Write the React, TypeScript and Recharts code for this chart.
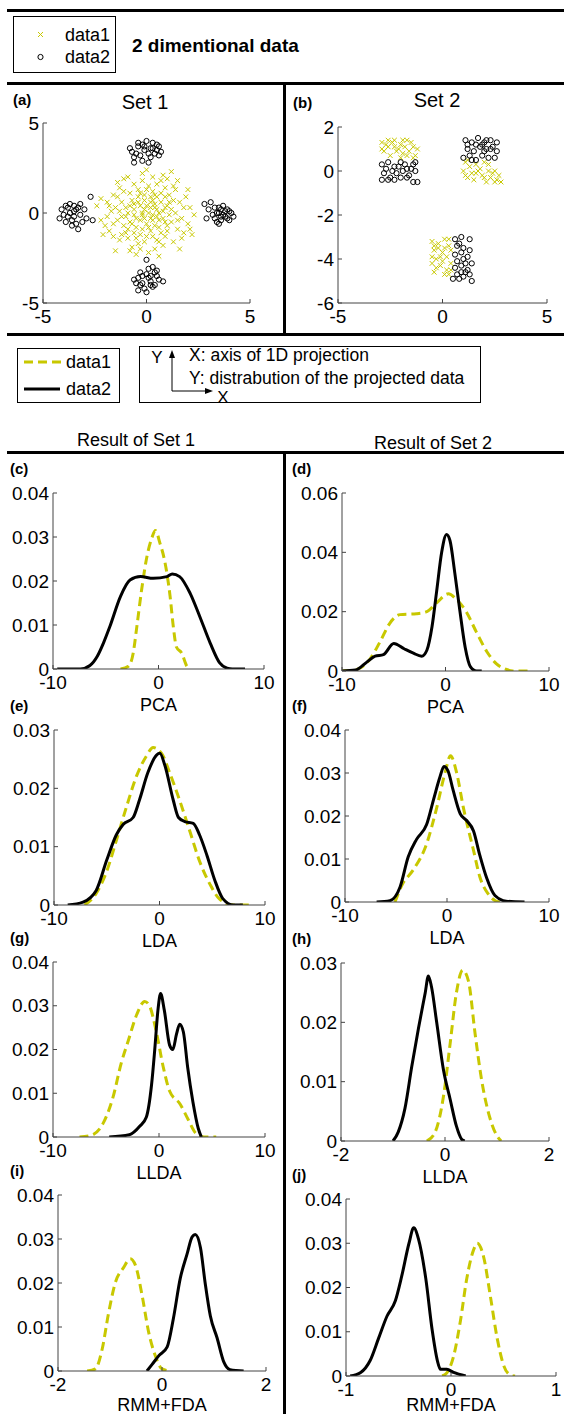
import React from "react";
import { LineChart, Line, ScatterChart, Scatter, XAxis, YAxis } from "recharts";

const YELLOW = "#c8c800";
const FONT = "'Liberation Sans', Arial, Helvetica, sans-serif";

// ---- (a) Set 1 scatter ----
const set1Data1 = [
  [-0.1, 0.2], [0.3, -0.4], [-0.6, 0.5], [0.8, 0.1], [-1.1, -0.7], [0.5, 0.9], [-0.3, -1.2], [1.2, -0.5],
  [-1.5, 0.3], [0.1, 1.5], [0.9, -1.3], [-0.8, 1.1], [1.6, 0.6], [-1.9, -0.2], [0.4, -2.0], [-0.2, 2.2],
  [2.0, -0.6], [-1.3, -1.5], [1.4, 1.3], [-0.5, -0.3], [0.2, 0.6], [-0.9, 0.0], [0.6, -0.8], [1.0, 0.4],
  [-0.4, 0.9], [0.0, -0.6], [-1.6, 1.0], [1.8, -1.1], [-0.7, -1.9], [0.7, 1.8], [-2.2, 0.8], [2.1, 0.3],
  [-1.0, -1.1], [1.1, -0.1], [-0.1, -1.6], [0.3, 1.2], [-1.4, -0.4], [1.5, -0.9], [-0.6, 1.6], [0.9, 0.9],
  [-0.2, -0.9], [0.5, 0.2], [-1.2, 0.6], [1.3, -1.6], [-1.8, -1.0], [0.2, -1.0], [-0.3, 0.4], [0.8, -0.3],
  [-0.8, -0.5], [0.4, 0.5], [1.9, 0.9], [-2.0, -0.7], [0.0, 2.4], [1.2, 2.3], [-1.1, 1.9], [-0.5, -2.3],
  [0.6, -2.4], [1.6, -2.0], [-1.5, -2.1], [2.2, -1.2], [-0.9, 2.0], [0.1, 0.0], [-0.6, -0.1], [0.7, 0.6],
  [-0.3, -0.4], [0.3, -0.1], [1.0, -0.7], [-1.0, 0.3], [0.2, 0.9], [-0.4, 1.3], [1.4, 0.0], [-1.7, 0.1],
  [0.9, 1.4], [-0.2, 1.8], [0.5, -1.5], [-0.9, -1.4], [1.7, -0.3], [-1.3, 1.4], [0.0, -1.3], [1.1, 1.0],
  [-0.7, 0.7], [0.6, 0.0], [-0.1, 0.7], [0.4, -0.7], [-1.2, -0.2], [1.3, 0.7], [-0.5, -0.8], [0.8, -1.8],
  [-2.4, 0.4], [2.3, -0.1], [-1.9, 0.6], [1.8, 0.3], [-0.8, -2.1], [0.3, 2.0], [0.7, -1.1], [-0.4, -1.7],
  [1.5, 1.8], [-1.6, -1.3], [0.1, -2.2], [-0.1, 1.0], [2.0, 1.3], [-2.1, -1.2], [0.9, -0.5], [-0.6, 0.2],
  [0.2, -0.3], [1.0, 1.9], [-1.4, 0.9], [0.5, 1.6],
  [-0.2, -0.1], [0.4, 0.3], [-0.7, -0.6], [0.6, -0.4], [-0.4, 0.6], [0.9, 0.3], [-1.0, -0.2], [0.1, -0.8],
  [-0.3, 1.1], [1.2, 0.2], [-1.3, 0.1], [0.3, -1.3], [-0.8, 0.4], [0.7, 1.1], [-0.5, -1.4], [1.5, -0.4],
  [-1.6, -0.6], [0.0, 1.3], [1.0, -1.0], [-1.1, 1.2], [0.5, -0.2], [-0.1, -0.3], [0.2, 0.3], [-0.9, -0.9],
  [1.3, 1.5], [-1.8, 0.4], [1.7, -1.4], [-0.3, -2.0], [0.8, 2.1], [-1.4, 1.7], [2.1, -0.9], [-2.2, -0.4],
  [0.4, 1.0], [-0.6, -1.1], [1.1, 0.6], [-1.2, -1.2], [0.0, 0.4], [0.6, -1.6], [-0.2, 0.0], [0.3, 0.7],
];
const set1Data2 = [
  [-0.5, 3.3], [0.2, 3.6], [-0.2, 3.8], [0.5, 3.5], [-0.7, 3.4], [0.1, 3.3], [0.3, 3.9], [-0.4, 3.7],
  [0.6, 3.7], [-0.1, 3.5], [0.4, 3.3], [-0.6, 3.1], [0.0, 4.0], [-0.3, 3.2], [0.7, 3.4], [-0.8, 3.6],
  [0.2, 3.1], [-0.2, 2.9], [-0.6, 2.8], [0.1, 2.8], [0.5, 3.8], [-0.4, 3.9], [0.3, 3.6], [-0.1, 3.7], [0.6, 3.2],
  [-0.4, -3.6], [0.2, -3.8], [0.0, -3.4], [0.5, -3.5], [-0.3, -4.0], [0.3, -4.1], [-0.5, -3.9], [0.1, -3.6],
  [0.6, -3.7], [-0.1, -4.2], [0.4, -3.3], [-0.2, -3.5], [0.0, -2.6], [0.3, -3.0], [-0.4, -4.3], [0.0, -4.4],
  [0.8, -3.8], [-0.6, -3.7], [0.2, -4.0], [0.5, -3.2], [-0.2, -3.9], [0.1, -3.1], [0.4, -4.0], [-0.3, -3.3], [0.2, -3.5],
  [-3.5, 0.1], [-3.8, -0.2], [-3.3, 0.3], [-4.1, 0.2], [-3.6, -0.4], [-3.2, -0.1], [-3.9, 0.4], [-3.4, -0.6],
  [-3.7, 0.0], [-4.2, -0.3], [-3.0, 0.2], [-3.5, 0.4], [-3.1, -0.5], [-2.7, 0.9], [-3.3, -0.9], [-2.6, -0.4],
  [-2.9, -0.3], [-3.8, 0.3], [-4.0, -0.1], [-3.6, -0.7], [-3.2, 0.5], [-3.4, 0.2], [-3.9, -0.5], [-3.5, -0.2], [-3.7, 0.5],
  [3.5, 0.0], [3.8, -0.2], [3.3, 0.3], [3.6, -0.4], [4.0, 0.1], [3.2, -0.1], [3.7, 0.4], [3.4, -0.5],
  [3.9, -0.3], [4.1, 0.0], [3.0, 0.2], [3.6, 0.2], [2.9, -0.3], [2.8, 0.5], [3.5, -0.6], [3.8, 0.1],
  [4.2, -0.2], [3.3, -0.3], [3.7, -0.1], [3.1, 0.6], [3.5, 0.3], [3.9, 0.2], [3.4, 0.0], [3.6, -0.2], [4.0, -0.4],
];

// ---- (b) Set 2 scatter ----
const set2Data1 = [
  [-2.9, 1.3], [-2.6, 1.1], [-2.3, 1.4], [-2.0, 1.2], [-1.7, 1.4], [-1.4, 1.1], [-1.3, 0.7], [-2.8, 0.9],
  [-2.5, 0.7], [-2.2, 0.9], [-1.9, 0.8], [-1.6, 0.9], [-2.4, 1.3], [-2.1, 1.0], [-1.8, 1.1], [-1.5, 1.3],
  [-2.7, 1.2], [-2.0, 0.6], [-1.4, 0.6], [-2.6, 1.4], [-1.2, 1.0], [-2.3, 1.1], [-1.7, 0.7], [-2.9, 1.0], [-1.9, 1.4],
  [1.1, 0.4], [1.3, 0.2], [1.0, 0.0], [1.4, -0.1], [1.6, 0.3], [1.2, -0.3], [1.8, 0.1], [1.5, -0.4],
  [2.0, 0.4], [2.2, 0.0], [1.9, -0.2], [2.3, -0.3], [2.5, 0.0], [2.1, -0.5], [2.6, -0.4], [2.8, -0.5],
  [2.4, -0.1], [2.7, -0.2], [1.7, 0.0], [2.0, -0.3], [1.2, 0.5], [2.2, 0.3], [2.5, -0.5], [1.1, -0.2], [1.6, -0.1],
  [-0.5, -3.2], [-0.2, -3.3], [0.1, -3.1], [0.3, -3.4], [-0.4, -3.6], [0.0, -3.7], [0.2, -3.9], [-0.3, -4.0],
  [0.4, -3.6], [-0.5, -4.2], [-0.1, -4.3], [0.2, -4.5], [-0.4, -4.6], [0.1, -4.7], [0.4, -4.2], [-0.2, -3.5],
  [0.3, -3.1], [-0.5, -3.9], [0.0, -4.1], [0.3, -4.7], [-0.3, -4.4], [0.1, -3.5], [-0.1, -3.9], [0.4, -4.5], [-0.4, -3.4],
];
const set2Data2 = [
  [-2.9, 0.3], [-2.6, 0.4], [-2.3, 0.2], [-2.0, 0.4], [-1.7, 0.1], [-1.4, 0.3], [-2.8, -0.1], [-2.5, -0.3],
  [-2.2, -0.1], [-1.9, 0.0], [-1.6, -0.2], [-1.3, 0.0], [-2.7, 0.1], [-2.4, 0.0], [-2.1, 0.2], [-1.8, 0.3],
  [-1.5, 0.1], [-2.9, -0.4], [-2.6, -0.4], [-2.0, -0.3], [-1.7, -0.3], [-1.4, -0.5], [-1.2, -0.5], [-2.3, -0.4], [-1.3, 0.4],
  [1.1, 1.4], [1.4, 1.3], [1.7, 1.5], [2.0, 1.3], [2.3, 1.4], [2.6, 1.3], [1.2, 1.0], [1.5, 0.9],
  [1.8, 1.1], [2.1, 1.0], [2.4, 1.1], [2.6, 0.9], [1.0, 0.6], [1.3, 0.7], [1.6, 0.5], [1.9, 0.7],
  [2.2, 0.6], [2.5, 0.6], [1.2, 1.2], [2.0, 0.9], [1.6, 1.2], [2.3, 1.0], [1.4, 0.5], [2.1, 1.4], [1.9, 1.2],
  [0.6, -3.1], [0.9, -3.0], [1.3, -3.1], [0.7, -3.4], [1.0, -3.5], [1.3, -3.6], [0.6, -3.8], [0.9, -3.7],
  [1.2, -3.9], [0.7, -4.1], [1.0, -4.0], [1.4, -4.2], [0.6, -4.4], [0.9, -4.3], [1.2, -4.5], [0.7, -4.7],
  [1.0, -4.8], [1.3, -4.7], [0.5, -4.9], [0.8, -4.9], [1.4, -5.0], [1.1, -4.6], [0.8, -3.3], [1.1, -4.2], [0.9, -4.6],
];

// ---- density curves: [x, y] ----
const pca1Data1 = [[-3.6, 0], [-2.85, 0.0006], [-2.4, 0.0036], [-2.05, 0.0097], [-1.6, 0.018], [-1.1, 0.0255], [-0.6, 0.03], [-0.3, 0.0315], [0.15, 0.0285], [0.5, 0.0255], [0.8, 0.0217], [1.1, 0.0165], [1.4, 0.0097], [1.7, 0.005], [2.2, 0.0036], [2.7, 0.0006], [3.0, 0]];
const pca1Data2 = [[-9.6, 0], [-7.4, 0], [-6.5, 0.0008], [-5.8, 0.0029], [-5.2, 0.006], [-4.6, 0.0097], [-3.6, 0.0165], [-2.7, 0.0202], [-1.7, 0.021], [-0.5, 0.0206], [0.8, 0.021], [1.3, 0.0216], [2.0, 0.021], [3.0, 0.0172], [3.9, 0.012], [4.9, 0.0059], [5.8, 0.0014], [6.5, 0.0002], [7.0, 0], [8.2, 0]];
const pca2Data1 = [[-10, 0], [-8.6, 0.0005], [-7.3, 0.004], [-6.3, 0.01], [-5.4, 0.016], [-4.4, 0.019], [-2.8, 0.0193], [-1.8, 0.02], [-0.85, 0.023], [0.27, 0.026], [1.1, 0.024], [2.0, 0.02], [3.0, 0.013], [4.0, 0.0065], [4.9, 0.0025], [5.9, 0.0005], [6.5, 0], [8.1, 0]];
const pca2Data2 = [[-10, 0], [-8.7, 0.0003], [-7.6, 0.003], [-6.8, 0.005], [-6.0, 0.0055], [-5.0, 0.0093], [-4.0, 0.0075], [-3.1, 0.006], [-2.3, 0.005], [-1.8, 0.007], [-1.3, 0.015], [-0.85, 0.027], [-0.37, 0.04], [0.1, 0.046], [0.43, 0.044], [0.9, 0.033], [1.4, 0.02], [1.9, 0.008], [2.4, 0.0015], [3.0, 0], [3.5, 0]];
const lda1Data1 = [[-7.1, 0], [-6.0, 0.002], [-5.0, 0.0058], [-4.1, 0.011], [-3.1, 0.017], [-2.2, 0.022], [-1.25, 0.0255], [-0.6, 0.027], [0.2, 0.026], [1.0, 0.0225], [1.9, 0.018], [2.9, 0.0125], [3.8, 0.0075], [4.8, 0.0035], [5.7, 0.001], [7.0, 0], [8.7, 0]];
const lda1Data2 = [[-8.7, 0], [-7.25, 0.0005], [-6.0, 0.0025], [-5.0, 0.0077], [-4.1, 0.012], [-3.45, 0.0138], [-2.5, 0.015], [-1.9, 0.018], [-1.1, 0.0227], [-0.28, 0.0257], [0.03, 0.026], [0.5, 0.024], [1.3, 0.018], [1.8, 0.015], [2.4, 0.0143], [3.2, 0.014], [3.8, 0.012], [4.5, 0.0085], [5.25, 0.0042], [6.0, 0.0011], [7.0, 0], [7.9, 0]];
const lda2Data1 = [[-5.1, 0], [-4.4, 0.004], [-3.3, 0.0075], [-2.0, 0.0135], [-1.0, 0.022], [-0.2, 0.03], [0.35, 0.034], [0.95, 0.03], [1.6, 0.022], [2.6, 0.012], [3.2, 0.006], [4.0, 0.002], [5.2, 0], [6.0, 0]];
const lda2Data2 = [[-6.9, 0], [-5.6, 0.0003], [-4.6, 0.0035], [-3.8, 0.0105], [-3.0, 0.0145], [-2.0, 0.018], [-1.3, 0.024], [-0.7, 0.029], [-0.3, 0.0315], [0.1, 0.0305], [0.6, 0.026], [1.3, 0.0205], [1.9, 0.019], [2.6, 0.0165], [3.2, 0.011], [3.9, 0.0055], [4.7, 0.0015], [5.8, 0.0002], [7.6, 0]];
const llda1Data1 = [[-7.5, 0], [-6.5, 0.0003], [-5.3, 0.003], [-4.35, 0.009], [-3.55, 0.017], [-2.9, 0.022], [-2.1, 0.028], [-1.35, 0.031], [-0.9, 0.03], [-0.25, 0.024], [0.4, 0.016], [1.0, 0.0105], [2.0, 0.0075], [2.75, 0.004], [3.5, 0.0008], [4.3, 0], [5.4, 0]];
const llda1Data2 = [[-4.7, 0], [-2.8, 0.0005], [-1.8, 0.0025], [-1.2, 0.0045], [-0.7, 0.012], [-0.4, 0.02], [-0.1, 0.029], [0.15, 0.0328], [0.5, 0.029], [1.0, 0.021], [1.3, 0.02], [1.65, 0.0235], [1.95, 0.0258], [2.3, 0.024], [2.7, 0.016], [3.2, 0.008], [3.7, 0.002], [4.0, 0]];
const llda2Data1 = [[-0.35, 0], [-0.19, 0.0015], [-0.03, 0.0075], [0.1, 0.0165], [0.22, 0.025], [0.34, 0.0288], [0.45, 0.027], [0.58, 0.018], [0.7, 0.0105], [0.86, 0.004], [0.99, 0.001], [1.08, 0]];
const llda2Data2 = [[-1.0, 0], [-0.9, 0.0015], [-0.77, 0.0055], [-0.64, 0.0125], [-0.51, 0.019], [-0.38, 0.025], [-0.32, 0.0278], [-0.26, 0.026], [-0.16, 0.02], [-0.03, 0.012], [0.1, 0.007], [0.22, 0.0025], [0.32, 0.0003], [0.38, 0]];
const rmm1Data1 = [[-1.44, 0], [-1.28, 0.0005], [-1.15, 0.005], [-1.03, 0.013], [-0.9, 0.02], [-0.74, 0.0235], [-0.61, 0.0255], [-0.51, 0.024], [-0.38, 0.017], [-0.26, 0.009], [-0.13, 0.0035], [0, 0.0005], [0.16, 0]];
const rmm1Data2 = [[-0.29, 0], [-0.19, 0.0015], [-0.06, 0.0035], [0.1, 0.0055], [0.22, 0.012], [0.35, 0.021], [0.48, 0.0265], [0.58, 0.0305], [0.64, 0.031], [0.74, 0.028], [0.83, 0.02], [0.93, 0.0125], [1.06, 0.0075], [1.19, 0.002], [1.31, 0.0003], [1.57, 0]];
const rmm2Data1 = [[-0.085, 0], [-0.04, 0.0007], [0.025, 0.0045], [0.09, 0.0125], [0.15, 0.022], [0.215, 0.0285], [0.25, 0.03], [0.31, 0.027], [0.375, 0.018], [0.44, 0.0085], [0.5, 0.0025], [0.56, 0.0003], [0.61, 0]];
const rmm2Data2 = [[-0.96, 0], [-0.86, 0.0008], [-0.77, 0.0035], [-0.69, 0.0085], [-0.61, 0.0135], [-0.53, 0.017], [-0.47, 0.0225], [-0.4, 0.03], [-0.355, 0.0335], [-0.31, 0.031], [-0.24, 0.022], [-0.18, 0.0105], [-0.13, 0.0035], [-0.1, 0.0015], [-0.04, 0.0015], [0.025, 0.0008], [0.14, 0]];

// tick lists
const ticks10 = [-10, 0, 10];
const ticks2 = [-2, 0, 2];
const ticks1 = [-1, 0, 1];
const ticks5 = [-5, 0, 5];
const ticksSet2Y = [-6, -4, -2, 0, 2];
const yTicks04 = [0, 0.01, 0.02, 0.03, 0.04];
const yTicks03 = [0, 0.01, 0.02, 0.03];
const yTicks06 = [0, 0.02, 0.04, 0.06];

const toPts = (arr: number[][]) => arr.map(([x, y]) => ({ x, y }));

type Box = [number, number, number, number];

// space around the plot box inside each chart
const YW = 52;
const XH = 30;
const MT = 14;
const MR = 16;

const boxLine = { stroke: "#444", strokeWidth: 1 };
const tickFont = { fontSize: 19, fill: "#000", fontFamily: FONT };

const axes = (xDomain: number[], xTicks: number[], yDomain: number[], yTicks: number[]) => [
  <XAxis key="xb" xAxisId="b" type="number" dataKey="x" domain={xDomain} ticks={xTicks} interval={0}
    allowDataOverflow height={XH} tickSize={-4} tickMargin={11} tick={tickFont} axisLine={boxLine} tickLine={boxLine} />,
  <XAxis key="xt" xAxisId="t" orientation="top" type="number" dataKey="x" domain={xDomain} ticks={xTicks} interval={0}
    allowDataOverflow height={0} tickSize={-4} tick={false} axisLine={boxLine} tickLine={boxLine} />,
  <YAxis key="yl" yAxisId="l" type="number" dataKey="y" domain={yDomain} ticks={yTicks} interval={0}
    allowDataOverflow width={YW} tickSize={-4} tickMargin={8} tick={tickFont} axisLine={boxLine} tickLine={boxLine} />,
  <YAxis key="yr" yAxisId="r" orientation="right" type="number" dataKey="y" domain={yDomain} ticks={yTicks} interval={0}
    allowDataOverflow width={0} tickSize={-4} tick={false} axisLine={boxLine} tickLine={boxLine} />,
];

const XMark = (p: any) => {
  const { cx, cy } = p;
  const s = 2.4;
  return (
    <path d={`M${cx - s},${cy - s}L${cx + s},${cy + s}M${cx - s},${cy + s}L${cx + s},${cy - s}`}
      stroke={YELLOW} strokeWidth={1} fill="none" />
  );
};
const OMark = (p: any) => <circle cx={p.cx} cy={p.cy} r={2.6} stroke="#000" strokeWidth={1} fill="none" />;

const ScatterPanel = ({ box, yDomain, yTicks, d1, d2 }: any) => {
  const [bx, by, bw, bh] = box as Box;
  return (
    <div style={{ position: "absolute", left: bx - YW, top: by - MT }}>
      <ScatterChart width={YW + bw + MR} height={MT + bh + XH} margin={{ top: MT, right: MR, left: 0, bottom: 0 }}>
        {axes([-5, 5], ticks5, yDomain, yTicks)}
        <Scatter xAxisId="b" yAxisId="l" data={toPts(d1)} shape={XMark} isAnimationActive={false} />
        <Scatter xAxisId="b" yAxisId="l" data={toPts(d2)} shape={OMark} isAnimationActive={false} />
      </ScatterChart>
    </div>
  );
};

const LinePanel = ({ box, xDomain, xTicks, yDomain, yTicks, d1, d2 }: any) => {
  const [bx, by, bw, bh] = box as Box;
  return (
    <div style={{ position: "absolute", left: bx - YW, top: by - MT }}>
      <LineChart width={YW + bw + MR} height={MT + bh + XH} margin={{ top: MT, right: MR, left: 0, bottom: 0 }}>
        {axes(xDomain, xTicks, yDomain, yTicks)}
        <Line xAxisId="b" yAxisId="l" data={toPts(d1)} dataKey="y" type="monotone" stroke={YELLOW}
          strokeWidth={3} strokeDasharray="9 5" dot={false} isAnimationActive={false} />
        <Line xAxisId="b" yAxisId="l" data={toPts(d2)} dataKey="y" type="monotone" stroke="#000"
          strokeWidth={3} dot={false} isAnimationActive={false} />
      </LineChart>
    </div>
  );
};

const panels = [
  { id: "(c)", label: "PCA", box: [53, 493, 211, 176], xDomain: [-10, 10], xTicks: ticks10, yDomain: [0, 0.04], yTicks: yTicks04, d1: pca1Data1, d2: pca1Data2 },
  { id: "(d)", label: "PCA", box: [342, 493, 207, 178], xDomain: [-10, 10], xTicks: ticks10, yDomain: [0, 0.06], yTicks: yTicks06, d1: pca2Data1, d2: pca2Data2 },
  { id: "(e)", label: "LDA", box: [54, 730, 211, 175], xDomain: [-10, 10], xTicks: ticks10, yDomain: [0, 0.03], yTicks: yTicks03, d1: lda1Data1, d2: lda1Data2 },
  { id: "(f)", label: "LDA", box: [345, 730, 204, 172], xDomain: [-10, 10], xTicks: ticks10, yDomain: [0, 0.04], yTicks: yTicks04, d1: lda2Data1, d2: lda2Data2 },
  { id: "(g)", label: "LLDA", box: [53, 962, 212, 175], xDomain: [-10, 10], xTicks: ticks10, yDomain: [0, 0.04], yTicks: yTicks04, d1: llda1Data1, d2: llda1Data2 },
  { id: "(h)", label: "LLDA", box: [341, 963, 208, 178], xDomain: [-2, 2], xTicks: ticks2, yDomain: [0, 0.03], yTicks: yTicks03, d1: llda2Data1, d2: llda2Data2 },
  { id: "(i)", label: "RMM+FDA", box: [58, 1195, 208, 176], xDomain: [-2, 2], xTicks: ticks2, yDomain: [0, 0.04], yTicks: yTicks04, d1: rmm1Data1, d2: rmm1Data2 },
  { id: "(j)", label: "RMM+FDA", box: [346, 1199, 210, 177], xDomain: [-1, 1], xTicks: ticks1, yDomain: [0, 0.04], yTicks: yTicks04, d1: rmm2Data1, d2: rmm2Data2 },
];

const Txt = ({ x, y, size = 18, bold = false, anchor = "start", children }: any) => (
  <text x={x} y={y} fontSize={size} fontWeight={bold ? "bold" : "normal"} textAnchor={anchor}
    dominantBaseline="central" fill="#000" fontFamily={FONT}>
    {children}
  </text>
);

const Overlay = () => (
  <svg width={564} height={1414} style={{ position: "absolute", left: 0, top: 0 }}>
    {/* frame lines */}
    <rect x={7} y={9} width={557} height={3} fill="#000" />
    <rect x={7} y={82} width={557} height={3} fill="#000" />
    <rect x={7} y={333} width={557} height={3} fill="#000" />
    <rect x={7} y={451} width={557} height={3} fill="#000" />
    <rect x={283} y={82} width={3} height={253} fill="#000" />
    <rect x={283} y={451} width={3} height={963} fill="#000" />

    {/* legend 1 */}
    <rect x={13.5} y={16.5} width={102} height={56} fill="none" stroke="#000" strokeWidth={1} />
    <path d="M38,32L43,37M38,37L43,32" stroke={YELLOW} strokeWidth={1} />
    <circle cx={40.5} cy={57} r={2.6} stroke="#000" fill="none" />
    <Txt x={65} y={35}>data1</Txt>
    <Txt x={65} y={57}>data2</Txt>
    <Txt x={132} y={45} size={19} bold>2 dimentional data</Txt>

    {/* scatter titles */}
    <Txt x={13} y={99} size={15} bold>(a)</Txt>
    <Txt x={145} y={102} size={20} anchor="middle">Set 1</Txt>
    <Txt x={293} y={102} size={15} bold>(b)</Txt>
    <Txt x={437} y={100} size={20} anchor="middle">Set 2</Txt>

    {/* legend 2 */}
    <rect x={17.5} y={348.5} width={102} height={54} fill="none" stroke="#000" strokeWidth={1} />
    <line x1={24} y1={362} x2={63} y2={362} stroke={YELLOW} strokeWidth={3} strokeDasharray="9 5" />
    <line x1={24} y1={389} x2={60} y2={389} stroke="#000" strokeWidth={3} />
    <Txt x={66} y={362}>data1</Txt>
    <Txt x={66} y={389}>data2</Txt>

    {/* axis note box */}
    <rect x={139.5} y={346.5} width={341} height={56} fill="none" stroke="#000" strokeWidth={1} />
    <line x1={172} y1={391} x2={172} y2={356} stroke="#000" strokeWidth={1} />
    <path d="M172,350L169,358L175,358Z" fill="#000" />
    <line x1={172} y1={391} x2={206} y2={391} stroke="#000" strokeWidth={1} />
    <path d="M213,391L205,388L205,394Z" fill="#000" />
    <Txt x={157} y={357} size={17} anchor="middle">Y</Txt>
    <Txt x={223} y={397} size={17} anchor="middle">X</Txt>
    <Txt x={189} y={355} size={17.5}>X: axis of 1D projection</Txt>
    <Txt x={189} y={378} size={17.5}>Y: distrabution of the projected data</Txt>

    <Txt x={136} y={440} anchor="middle">Result of Set 1</Txt>
    <Txt x={433} y={443} anchor="middle">Result of Set 2</Txt>

    {/* panel ids and x labels */}
    {panels.map((p) => {
      const [bx, by, bw, bh] = p.box;
      const left = bx < 200;
      return (
        <g key={p.id}>
          <Txt x={left ? 10 : 292} y={by - 25} size={15} bold>{p.id}</Txt>
          <Txt x={bx + bw / 2} y={Math.min(by + bh + 36, 1405)} size={18} anchor="middle">{p.label}</Txt>
        </g>
      );
    })}
  </svg>
);

export default function App() {
  return (
    <div style={{ position: "absolute", left: 0, top: 0, width: 564, height: 1414, background: "#fff", fontFamily: FONT }}>
      <Overlay />
      <ScatterPanel box={[43, 123, 207, 180]} yDomain={[-5, 5]} yTicks={ticks5} d1={set1Data1} d2={set1Data2} />
      <ScatterPanel box={[338, 127, 209, 176]} yDomain={[-6, 2]} yTicks={ticksSet2Y} d1={set2Data1} d2={set2Data2} />
      {panels.map((p) => (
        <LinePanel key={p.id} {...p} />
      ))}
    </div>
  );
}
